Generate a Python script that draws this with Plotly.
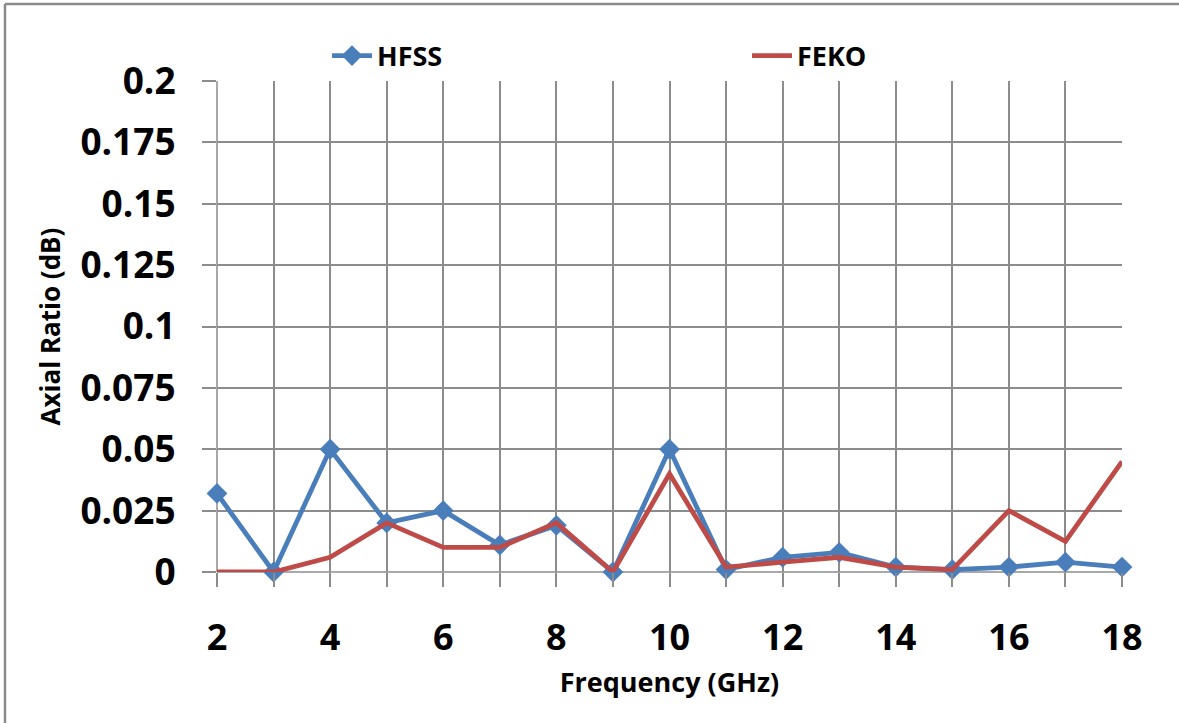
import plotly.graph_objects as go

# Frequency sweep (GHz) and simulated axial ratio (dB)
freq_ghz = list(range(2, 19))
hfss_ar = [0.032, 0.0, 0.05, 0.02, 0.025, 0.011, 0.019, 0.0, 0.05,
           0.001, 0.006, 0.008, 0.002, 0.001, 0.002, 0.004, 0.002]
feko_ar = [0.0, 0.0, 0.006, 0.02, 0.01, 0.01, 0.02, 0.0, 0.04,
           0.002, 0.004, 0.006, 0.002, 0.001, 0.025, 0.0125, 0.045]

x_tick_vals = list(range(2, 19))
x_tick_text = [str(v) if v % 2 == 0 else "" for v in x_tick_vals]
y_tick_vals = [0, 0.025, 0.05, 0.075, 0.1, 0.125, 0.15, 0.175, 0.2]
y_tick_text = ["0", "0.025", "0.05", "0.075", "0.1", "0.125", "0.15", "0.175", "0.2"]

BLUE = "#4A7EBB"
RED = "#BE4B48"
GRID = "#8C8C8C"
FONT = "Open Sans"

W, H = 1179, 723
L, R, T, B = 217, 57, 81, 151

fig = go.Figure()
fig.add_trace(go.Scatter(
    x=freq_ghz, y=hfss_ar, name="HFSS", mode="lines+markers",
    line=dict(color=BLUE, width=4.8),
    marker=dict(symbol="diamond", size=16, color=BLUE),
    cliponaxis=False, legend="legend",
))
fig.add_trace(go.Scatter(
    x=freq_ghz, y=feko_ar, name="FEKO", mode="lines",
    line=dict(color=RED, width=4.8),
    cliponaxis=False, legend="legend2",
))

pw = W - L - R
ph = H - T - B

def px_x(p):
    return (p - L) / pw

def px_y(p):
    return (H - B - p) / ph

# Chart frame: only its top and left edges are inside the page
FRAME = dict(color="#8A8A8A", width=2.5)
fig.add_shape(type="line", xref="paper", yref="paper",
              x0=px_x(5), x1=px_x(1300), y0=px_y(4), y1=px_y(4),
              line=FRAME, layer="below")
fig.add_shape(type="line", xref="paper", yref="paper",
              x0=px_x(5), x1=px_x(5), y0=px_y(4), y1=px_y(800),
              line=FRAME, layer="below")

legend_font = dict(family=FONT, size=27, weight="bold")

fig.update_layout(
    width=W, height=H,
    margin=dict(l=L, r=R, t=T, b=B),
    paper_bgcolor="white", plot_bgcolor="white",
    font=dict(family=FONT, color="black"),
    showlegend=True,
    legend=dict(
        orientation="h", x=px_x(327), xanchor="left",
        y=px_y(56), yanchor="middle",
        font=legend_font, bgcolor="rgba(0,0,0,0)", itemwidth=40,
    ),
    legend2=dict(
        orientation="h", x=px_x(747), xanchor="left",
        y=px_y(56), yanchor="middle",
        font=legend_font, bgcolor="rgba(0,0,0,0)", itemwidth=40,
    ),
    xaxis=dict(
        range=[2, 18], tickmode="array", tickvals=x_tick_vals, ticktext=x_tick_text,
        showgrid=True, gridcolor=GRID, gridwidth=1.5,
        ticks="outside", ticklen=14, tickcolor=GRID, tickwidth=1.5,
        showline=False, zeroline=False,
        tickfont=dict(family=FONT, size=36, weight="bold"),
        ticklabelstandoff=20,
        title=dict(text="Frequency (GHz)", standoff=12,
                   font=dict(family=FONT, size=27, weight="bold")),
    ),
    yaxis=dict(
        range=[0, 0.2], tickmode="array", tickvals=y_tick_vals, ticktext=y_tick_text,
        showgrid=True, gridcolor=GRID, gridwidth=1.5,
        ticks="outside", ticklen=14, tickcolor=GRID, tickwidth=1.5,
        showline=False, zeroline=False,
        tickfont=dict(family=FONT, size=37, weight="bold"),
        ticklabelstandoff=19,
        title=dict(text="Axial Ratio (dB)", standoff=12,
                   font=dict(family=FONT, size=26, weight="bold")),
    ),
)

# Left and bottom axis lines drawn as grid-coloured lines at x=2 and y=0
fig.add_shape(type="line", xref="paper", yref="paper", x0=0, x1=0, y0=0, y1=1,
              line=dict(color=GRID, width=1.5), layer="below")
fig.add_shape(type="line", xref="paper", yref="paper", x0=0, x1=1, y0=0, y1=0,
              line=dict(color=GRID, width=1.5), layer="below")

fig.write_html("out.html")
